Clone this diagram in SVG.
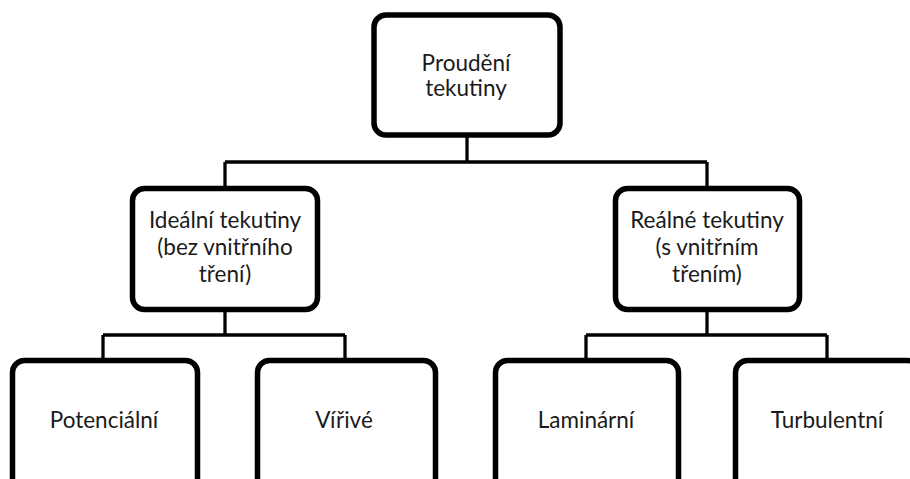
<svg xmlns="http://www.w3.org/2000/svg" width="910" height="479" viewBox="0 0 910 479">
<style>
.box{fill:#fff;stroke:#000;stroke-width:5.5}
.con{fill:none;stroke:#000;stroke-width:3.3}
text{font-family:Lato,"Open Sans",sans-serif;font-size:22.5px;fill:#1a1a1a;text-anchor:middle}
</style>
<rect width="910" height="479" fill="#fff"/>
<g id="connectors">
<path class="con" d="M467 137V162M225 162H707M225 162V187M707 162V187"/>
<path class="con" d="M225 312V335M103 335H345M103 335V358M345 335V358"/>
<path class="con" d="M707 312V335M586 335H827M586 335V358M827 335V358"/>
</g>
<g id="root">
<rect class="box" x="374" y="15" width="186" height="120" rx="12"/>
<text x="466" y="71">Proudění</text>
<text x="466" y="96">tekutiny</text>
</g>
<g id="ideal">
<rect class="box" x="132.5" y="188.5" width="185" height="121" rx="12"/>
<text x="225" y="228">Ideální tekutiny</text>
<text x="225" y="255">(bez vnitřního</text>
<text x="225" y="282">tření)</text>
</g>
<g id="real">
<rect class="box" x="615.5" y="188.5" width="184" height="121" rx="12"/>
<text x="707" y="228">Reálné tekutiny</text>
<text x="707" y="255">(s vnitřním</text>
<text x="707" y="282">třením)</text>
</g>
<g id="potencialni">
<rect class="box" x="12.5" y="360.5" width="185" height="130" rx="12"/>
<text x="104" y="428">Potenciální</text>
</g>
<g id="virive">
<rect class="box" x="257.5" y="360.5" width="178" height="130" rx="12"/>
<text x="344" y="428">Vířivé</text>
</g>
<g id="laminarni">
<rect class="box" x="495.5" y="360.5" width="183" height="130" rx="12"/>
<text x="586" y="428">Laminární</text>
</g>
<g id="turbulentni">
<rect class="box" x="735.5" y="360.5" width="184" height="130" rx="12"/>
<text x="827" y="428">Turbulentní</text>
</g>
</svg>
